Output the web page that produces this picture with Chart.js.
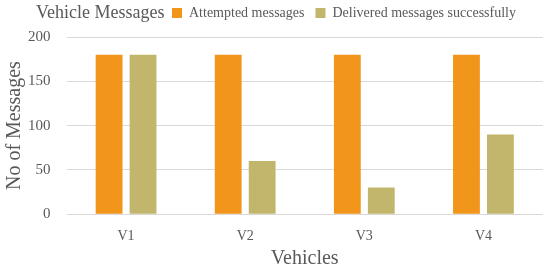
<!DOCTYPE html>
<html>
<head>
<meta charset="utf-8">
<script src="https://cdn.jsdelivr.net/npm/chart.js@4/dist/chart.umd.min.js"></script>
<style>
    html, body { margin: 0; padding: 0; background: #fff; }
    #wrap { position: relative; width: 550px; height: 266px; }
</style>
</head>
<body>
<div id="wrap"><canvas id="chart"></canvas></div>
<script>
// Chart data
const categories = ['V1', 'V2', 'V3', 'V4'];
const attempted = [180, 180, 180, 180];
const delivered = [180, 60, 30, 90];
const seriesNames = ['Attempted messages', 'Delivered messages successfully'];
const yTicks = [0, 50, 100, 150, 200];

const fontFamily = "'Liberation Serif', 'Times New Roman', serif";
const textColor = '#595959';

// Title sits on the same line as the legend, legend placed right after it
const inlineTitle = {
    id: 'inlineTitle',
    afterLayout(chart) {
        const legend = chart.legend;
        legend.left = 172 - legend.options.labels.padding;
        legend.top = -5;
    },
    afterDraw(chart) {
        const ctx = chart.ctx;
        ctx.save();
        ctx.font = '18px ' + fontFamily;
        ctx.fillStyle = textColor;
        ctx.textBaseline = 'middle';
        ctx.textAlign = 'left';
        ctx.fillText('Vehicle Messages', 36, 13);
        ctx.restore();
    }
};

new Chart(document.getElementById('chart').getContext('2d'), {
    type: 'bar',
    data: {
        labels: categories,
        datasets: [
            {
                label: seriesNames[0],
                data: attempted,
                backgroundColor: '#F2951B'
            },
            {
                label: seriesNames[1],
                data: delivered,
                backgroundColor: '#C2B66D'
            }
        ]
    },
    options: {
        responsive: true,
        maintainAspectRatio: false,
        animation: false,
        devicePixelRatio: 1,
        categoryPercentage: 0.57,
        barPercentage: 0.79,
        layout: {
            padding: { left: 3, right: 7, top: 2, bottom: -5 }
        },
        plugins: {
            legend: {
                position: 'top',
                align: 'start',
                labels: {
                    color: textColor,
                    boxWidth: 10,
                    boxHeight: 10,
                    padding: 11,
                    font: { family: fontFamily, size: 14 }
                }
            },
            tooltip: { enabled: false }
        },
        scales: {
            x: {
                grid: { display: false },
                border: { display: false },
                ticks: {
                    color: textColor,
                    padding: 6,
                    font: { family: fontFamily, size: 14 }
                },
                title: {
                    display: true,
                    text: 'Vehicles',
                    color: textColor,
                    padding: { top: -4, bottom: 0 },
                    font: { family: fontFamily, size: 20 }
                }
            },
            y: {
                min: 0,
                max: 200,
                afterBuildTicks(axis) {
                    axis.ticks = yTicks.map(v => ({ value: v }));
                },
                grid: {
                    color: '#D9D9D9',
                    drawTicks: false
                },
                border: { display: false },
                ticks: {
                    color: textColor,
                    padding: 16,
                    font: { family: fontFamily, size: 15 }
                },
                title: {
                    display: true,
                    text: 'No of Messages',
                    color: textColor,
                    padding: { top: 0, bottom: -15 },
                    font: { family: fontFamily, size: 20 }
                }
            }
        }
    },
    plugins: [inlineTitle]
});
</script>
</body>
</html>
